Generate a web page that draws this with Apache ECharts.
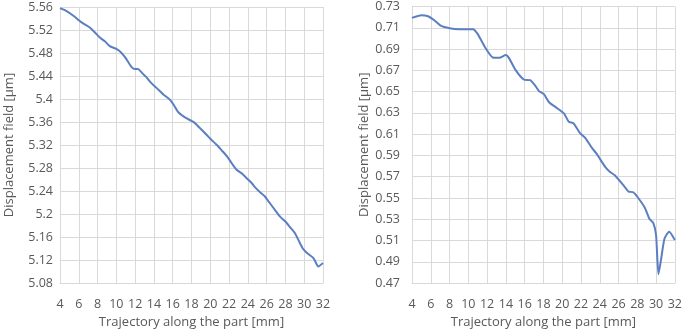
<!DOCTYPE html>
<html>
<head>
<meta charset="utf-8">
<script src="https://cdn.jsdelivr.net/npm/echarts@6/dist/echarts.min.js"></script>
<style>
  html, body { margin: 0; padding: 0; background: #fff; }
  #chart { width: 685px; height: 334px; }
</style>
</head>
<body>
<div id="chart"></div>
<script>
// left panel: displacement along the part
const leftX = [4.0, 4.7, 5.5, 6.0, 6.5, 7.2, 7.7, 8.3, 8.8, 9.3, 10.0, 10.5, 11.0, 11.6, 12.0, 12.3, 12.7, 13.2, 13.7, 14.3,
  15.0, 15.7, 16.1, 16.6, 17.3, 18.0, 18.3, 19.0, 19.6, 20.0, 20.7, 21.2, 21.8, 22.3, 22.8, 23.4, 23.9, 24.4, 24.8, 25.3,
  25.8, 26.2, 26.9, 27.4, 28.0, 28.5, 29.0, 29.5, 29.9, 30.4, 31.0, 31.5, 32.0]
const leftY = [5.558, 5.553, 5.544, 5.537, 5.531, 5.524, 5.516, 5.506, 5.500, 5.492, 5.487, 5.481, 5.471, 5.456, 5.452, 5.452, 5.446, 5.438, 5.428, 5.419,
  5.408, 5.399, 5.390, 5.377, 5.368, 5.362, 5.359, 5.348, 5.338, 5.331, 5.320, 5.311, 5.300, 5.288, 5.277, 5.270, 5.262, 5.254, 5.246, 5.238,
  5.231, 5.222, 5.207, 5.196, 5.187, 5.177, 5.167, 5.151, 5.139, 5.131, 5.123, 5.109, 5.115]

// right panel
const rightX = [4.0, 5.0, 5.7, 6.4, 7.1, 8.0, 9.0, 10.5, 11.0, 11.9, 12.6, 13.3, 14.0, 14.35, 15.06, 15.9, 16.6, 17.2, 17.5, 18.05,
  18.6, 19.3, 20.2, 20.7, 21.2, 21.9, 22.45, 23.15, 23.7, 24.0, 24.6, 25.1, 25.6, 26.2, 26.9, 27.05, 27.6, 28.1, 28.8, 29.3,
  29.7, 30.0, 30.25, 30.5, 30.9, 31.4, 32.0]
const rightY = [0.7193, 0.7218, 0.7208, 0.7169, 0.7117, 0.7096, 0.7087, 0.7087, 0.7040, 0.6900, 0.6821, 0.6818, 0.6843, 0.6812, 0.6699, 0.6614, 0.6607, 0.6547, 0.6507, 0.6477,
  0.6400, 0.6354, 0.6293, 0.6217, 0.6202, 0.6110, 0.6065, 0.5973, 0.5912, 0.5870, 0.5790, 0.5744, 0.5714, 0.5653, 0.5577, 0.5561, 0.5552, 0.5500, 0.5409, 0.5302,
  0.5266, 0.5150, 0.4784, 0.4905, 0.5119, 0.5183, 0.5104]

const xTicks = [4, 6, 8, 10, 12, 14, 16, 18, 20, 22, 24, 26, 28, 30, 32]
const leftTicks = ['5.08', '5.12', '5.16', '5.2', '5.24', '5.28', '5.32', '5.36', '5.4', '5.44', '5.48', '5.52', '5.56']
const rightTicks = ['0.47', '0.49', '0.51', '0.53', '0.55', '0.57', '0.59', '0.61', '0.63', '0.65', '0.67', '0.69', '0.71', '0.73']

const xTitle = 'Trajectory along the part [mm]'
const yTitle = 'Displacement field [μm]'

const chart = echarts.init(document.getElementById('chart'))

const font = 'Open Sans'
const textColor = '#595959'
const gridColor = '#d9d9d9'
const lineColor = '#5b7fc1'

const makeX = (gridIndex) => ({
  type: 'value',
  gridIndex,
  min: xTicks[0],
  max: xTicks[xTicks.length - 1],
  interval: 2,
  name: xTitle,
  nameLocation: 'middle',
  nameGap: 28,
  nameTextStyle: { color: textColor, fontFamily: font, fontSize: 13 },
  axisLine: { show: true, lineStyle: { color: gridColor } },
  axisTick: { show: false },
  axisLabel: { color: textColor, fontFamily: font, fontSize: 12.5, margin: 15 },
  splitLine: { show: true, lineStyle: { color: gridColor } }
})

const makeY = (gridIndex, ticks, nameGap, labelMargin) => ({
  type: 'value',
  gridIndex,
  min: Number(ticks[0]),
  max: Number(ticks[ticks.length - 1]),
  name: yTitle,
  nameLocation: 'middle',
  nameRotate: 90,
  nameGap,
  nameTextStyle: { color: textColor, fontFamily: font, fontSize: 13 },
  axisLine: { show: false },
  axisTick: { show: false, customValues: ticks.map(Number) },
  axisLabel: {
    color: textColor, fontFamily: font, fontSize: 12.5, margin: labelMargin,
    customValues: ticks.map(Number),
    formatter: (v) => ticks.find(t => Math.abs(Number(t) - v) < 1e-6) || ''
  },
  splitLine: { show: true, lineStyle: { color: gridColor } }
})

const option = {
  backgroundColor: '#fff',
  animation: false,
  grid: [
    { left: 60, right: 362, top: 7, bottom: 44 },
    { left: 412, right: 8, top: 5, bottom: 45 }
  ],
  xAxis: [makeX(0), makeX(1)],
  yAxis: [makeY(0, leftTicks, 44, 7), makeY(1, rightTicks, 41, 12)],
  series: [
    {
      type: 'line',
      xAxisIndex: 0,
      yAxisIndex: 0,
      data: leftX.map((x, i) => [x, leftY[i]]),
      smooth: 0.2,
      showSymbol: false,
      lineStyle: { color: lineColor, width: 2 }
    },
    {
      type: 'line',
      xAxisIndex: 1,
      yAxisIndex: 1,
      data: rightX.map((x, i) => [x, rightY[i]]),
      smooth: 0.2,
      showSymbol: false,
      lineStyle: { color: lineColor, width: 2 }
    }
  ]
}

chart.setOption(option)
</script>
</body>
</html>
